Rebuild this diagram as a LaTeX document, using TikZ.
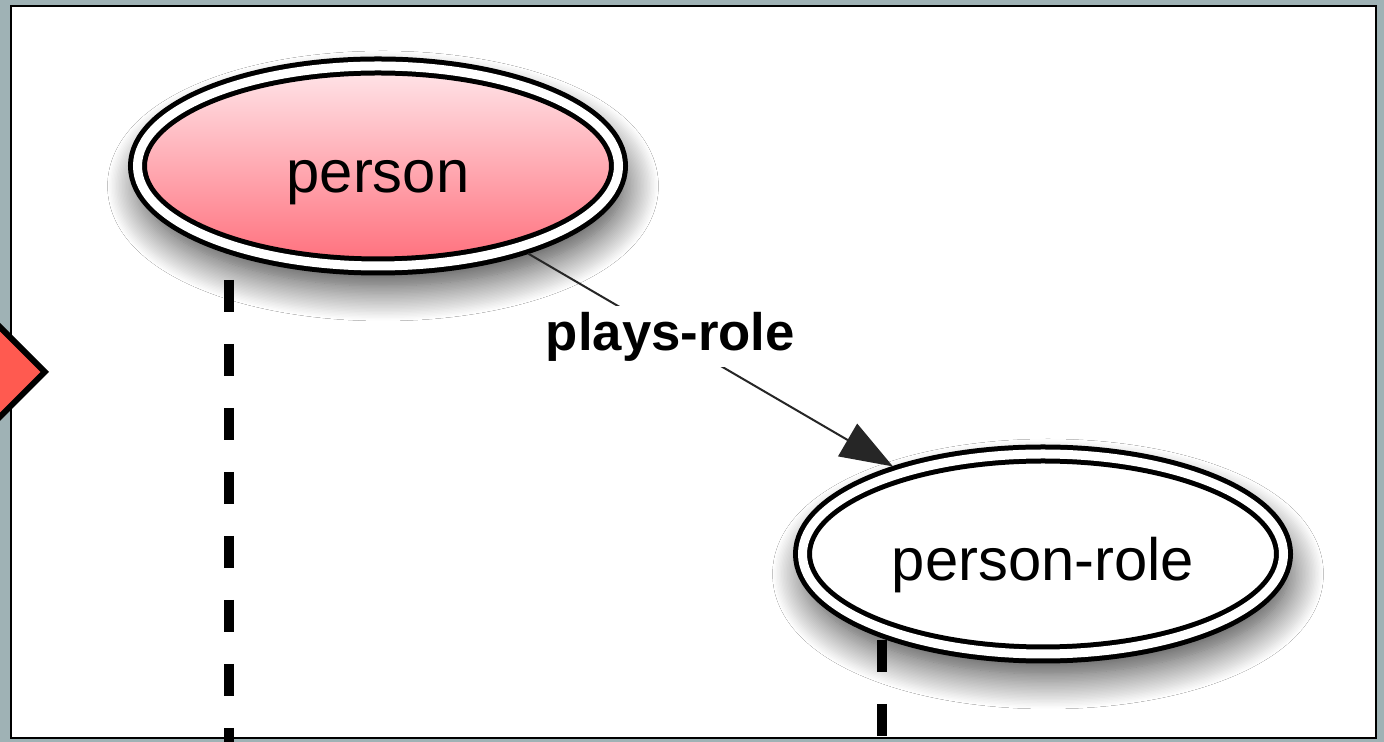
\documentclass[tikz,border=0pt]{standalone}
\usepackage{fontspec}
\setmainfont{Liberation Sans}
\usetikzlibrary{shapes.geometric,arrows.meta,shadows.blur}

\begin{document}
\begin{tikzpicture}[
  entity/.style={ellipse,draw=black,line width=0.1cm,double=white,double distance=0.18cm,
    minimum width=9.62cm,minimum height=4cm,inner sep=0pt,outer sep=0.19cm,
    text height=1.25cm,text depth=0.17cm,font=\fontsize{34}{40}\selectfont,
    blur shadow={shadow xshift=0.1cm,shadow yshift=-0.4cm,shadow blur radius=0.7cm,shadow blur steps=25,shadow opacity=80}},
  lifeline/.style={line width=0.2cm,dash pattern=on 0.64cm off 0.64cm},
  relation/.style={draw=black!85,line width=0.04cm,-{Triangle[length=1.05cm,width=0.75cm]}},
  rolename/.style={fill=white,inner xsep=0.05cm,inner ysep=0.12cm,font=\fontsize{30}{36}\selectfont\bfseries}
  ]
  \definecolor{framegray}{HTML}{9FB2B5}
  \definecolor{persontop}{HTML}{FFE6EA}
  \definecolor{personbottom}{HTML}{FF6E7B}
  \definecolor{linkred}{HTML}{FF5A50}
  \useasboundingbox (0,0) rectangle (27.68,14.84);
  \fill [framegray] (0,0) rectangle (27.68,14.84);
  \draw [fill=white,line width=0.05cm] (0.22,0.08) rectangle (27.52,14.72);
  \node [diamond,draw,line width=0.12cm,fill=linkred,minimum width=3cm,minimum height=3cm,inner sep=0pt] (link) at (-0.58,7.4) {};
  \node [entity,top color=persontop,bottom color=personbottom] (person) at (7.56,11.52) {person};
  \node [entity,fill=white] (role) at (20.86,3.76) {person-role};
  \draw [relation] (person) -- node [rolename,pos=0.39] {plays-role} (role);
  \coordinate (personlife) at (4.58,9.24);
  \coordinate (personend) at (4.58,0);
  \coordinate (rolelife) at (17.64,2.04);
  \coordinate (roleend) at (17.64,0);
  \draw [lifeline] (personlife) -- (personend);
  \draw [lifeline] (rolelife) -- (roleend);
\end{tikzpicture}
\end{document}
